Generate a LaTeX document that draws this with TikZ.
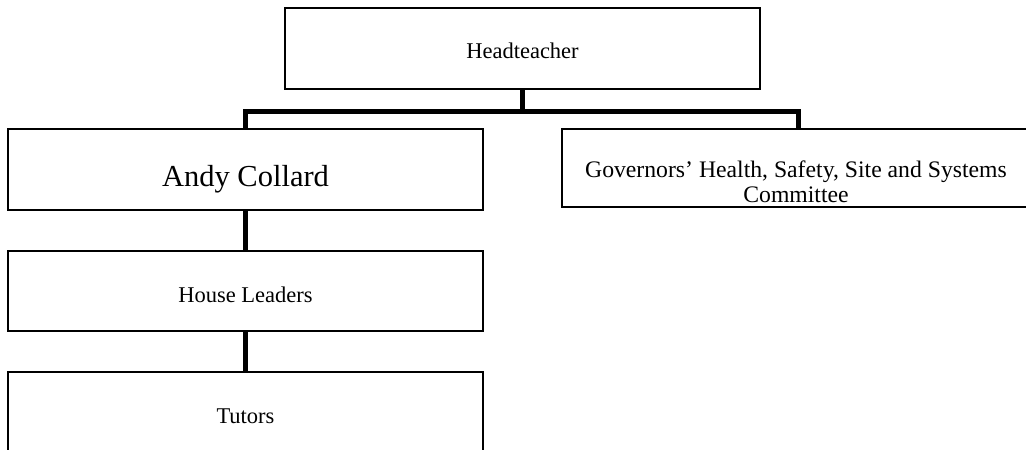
\documentclass[tikz,border=0pt]{standalone}
\usepackage{fontspec}
\setmainfont{Liberation Serif}
\begin{document}
\begin{tikzpicture}[x=1pt,y=-1pt,
  box/.style={draw=black,line width=1.3pt,fill=white,rectangle,inner sep=0pt},
  conn/.style={line width=5pt,line join=miter,line cap=butt},
  small/.style={font=\fontsize{22.5}{23}\selectfont,anchor=base,inner sep=0pt,align=center},
  govfont/.style={font=\fontsize{23.7}{24}\selectfont,anchor=base,inner sep=0pt},
  big/.style={font=\fontsize{30.5}{32}\selectfont,anchor=base,inner sep=0pt}]
\useasboundingbox (0,0) rectangle (1026,450);
\clip (0,0) rectangle (1026,450);
\node[box,minimum width=475pt,minimum height=81pt] (head) at (522.5,48.5) {};
\node[box,minimum width=475pt,minimum height=81pt] (andy) at (245.5,169.5) {};
\node[box,minimum width=472pt,minimum height=78pt] (gov) at (798,168) {};
\node[box,minimum width=475pt,minimum height=80pt] (house) at (245.5,291) {};
\node[box,minimum width=475pt,minimum height=84pt] (tutors) at (245.5,414) {};
\node[small] (headt) at (522.5,58) {Headteacher};
\node[big] (andyt) at (245.5,186) {Andy Collard};
\node[govfont] (govt1) at (796,177) {Governors’ Health, Safety, Site and Systems};
\node[govfont] (govt2) at (796,202) {Committee};
\node[small] (houset) at (245.5,302) {House Leaders};
\node[small] (tutorst) at (245.5,423) {Tutors};
\coordinate (bar) at (0,111);
\draw[conn] (head.south) -- (head.south |- bar);
\draw[conn] (andy.north) -- (andy.north |- bar) -- (gov.north |- bar) -- (gov.north);
\draw[conn] (andy.south) -- (house.north);
\draw[conn] (house.south) -- (tutors.north);
\end{tikzpicture}
\end{document}
